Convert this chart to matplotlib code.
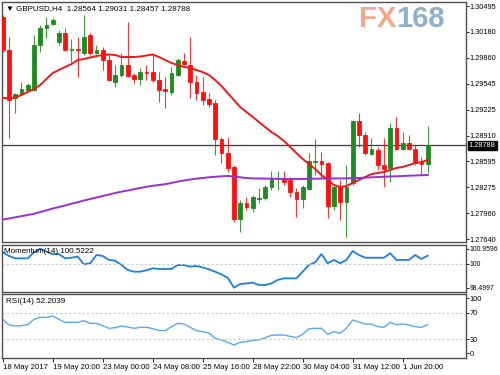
import matplotlib
matplotlib.use("Agg")
import matplotlib.pyplot as plt
import matplotlib.transforms as mtransforms
import numpy as np

plt.rcParams['font.family'] = ['Liberation Sans', 'DejaVu Sans']

# H4 candles, GBPUSD
time_labels = ["18 May 2017", "19 May 20:00", "23 May 00:00", "24 May 08:00",
               "25 May 16:00", "28 May 22:00", "30 May 04:00", "31 May 12:00",
               "1 Jun 20:00"]

opens = [1.30360, 1.29957, 1.29369, 1.29418, 1.29467, 1.29467, 1.30018, 1.30226, 1.30275, 1.30054,
         1.30165, 1.29957, 1.29969, 1.29920, 1.30140, 1.29920, 1.29957, 1.29834, 1.29565, 1.29651,
         1.29773, 1.29651, 1.29602, 1.29687, 1.29687, 1.29589, 1.29479, 1.29443, 1.29651, 1.29822,
         1.29773, 1.29565, 1.29443, 1.29357, 1.29308, 1.28867, 1.28696, 1.28525, 1.27888, 1.28084,
         1.28023, 1.28133, 1.28145, 1.28280, 1.28378, 1.28390, 1.28366, 1.28219, 1.28133, 1.28256,
         1.28586, 1.28598, 1.28574, 1.28048, 1.28280, 1.28096, 1.28329, 1.29088, 1.28916, 1.28684,
         1.28733, 1.28549, 1.28513, 1.29002, 1.28745, 1.28819, 1.28745, 1.28586, 1.28564]
highs = [1.30385, 1.30116, 1.29430, 1.29565, 1.29553, 1.30140, 1.30262, 1.30360, 1.30348, 1.30201,
         1.30226, 1.30091, 1.30116, 1.30385, 1.30165, 1.30018, 1.29993, 1.29895, 1.29773, 1.29920,
         1.30299, 1.29675, 1.29736, 1.29773, 1.29895, 1.29687, 1.29626, 1.29749, 1.29859, 1.29920,
         1.30116, 1.29651, 1.29626, 1.29430, 1.29345, 1.28892, 1.28892, 1.28549, 1.28121, 1.28158,
         1.28182, 1.28268, 1.28305, 1.28476, 1.28476, 1.28476, 1.28402, 1.28268, 1.28305, 1.28696,
         1.28867, 1.28708, 1.28586, 1.28305, 1.28366, 1.28549, 1.29100, 1.29186, 1.28953, 1.28880,
         1.28770, 1.28880, 1.29063, 1.29137, 1.28953, 1.28916, 1.28794, 1.28647, 1.29031]
lows = [1.29932, 1.28880, 1.29186, 1.29406, 1.29455, 1.29455, 1.29932, 1.30103, 1.30262, 1.30018,
        1.29945, 1.29810, 1.29626, 1.29895, 1.29895, 1.29907, 1.29712, 1.29577, 1.29504, 1.29626,
        1.29626, 1.29553, 1.29528, 1.29589, 1.29565, 1.29320, 1.29247, 1.29406, 1.29638, 1.29773,
        1.29369, 1.29345, 1.29284, 1.29259, 1.28672, 1.28574, 1.28464, 1.27852, 1.27729, 1.27999,
        1.27974, 1.28084, 1.28121, 1.28243, 1.28243, 1.28305, 1.28158, 1.27913, 1.28023, 1.28243,
        1.28427, 1.28390, 1.27901, 1.27999, 1.27876, 1.27668, 1.28305, 1.28770, 1.28672, 1.28672,
        1.28488, 1.28280, 1.28341, 1.28733, 1.28733, 1.28733, 1.28549, 1.28427, 1.28457]
closes = [1.29957, 1.29345, 1.29418, 1.29479, 1.29528, 1.30018, 1.30226, 1.30262, 1.30324, 1.30165,
          1.29957, 1.29969, 1.29957, 1.30116, 1.29920, 1.29957, 1.29834, 1.29589, 1.29651, 1.29773,
          1.29638, 1.29602, 1.29687, 1.29675, 1.29589, 1.29467, 1.29455, 1.29675, 1.29834, 1.29785,
          1.29565, 1.29430, 1.29345, 1.29296, 1.28867, 1.28696, 1.28513, 1.27888, 1.28084, 1.28035,
          1.28158, 1.28145, 1.28280, 1.28390, 1.28390, 1.28341, 1.28219, 1.28133, 1.28280, 1.28598,
          1.28598, 1.28562, 1.28048, 1.28280, 1.28096, 1.28280, 1.29088, 1.28916, 1.28696, 1.28745,
          1.28549, 1.28500, 1.29002, 1.28745, 1.28819, 1.28745, 1.28574, 1.28562, 1.28788]

ma_fast = [1.29369, 1.29369, 1.29375, 1.29406, 1.29443, 1.29479, 1.29528, 1.29602, 1.29675, 1.29712,
           1.29749, 1.29785, 1.29834, 1.29846, 1.29865, 1.29883, 1.29895, 1.29902, 1.29895, 1.29871,
           1.29871, 1.29871, 1.29877, 1.29889, 1.29902, 1.29871, 1.29834, 1.29798, 1.29773, 1.29749,
           1.29736, 1.29712, 1.29687, 1.29651, 1.29589, 1.29516, 1.29430, 1.29345, 1.29259, 1.29198,
           1.29137, 1.29076, 1.29014, 1.28953, 1.28904, 1.28843, 1.28770, 1.28696, 1.28623, 1.28562,
           1.28500, 1.28427, 1.28366, 1.28305, 1.28280, 1.28292, 1.28329, 1.28366, 1.28402, 1.28439,
           1.28451, 1.28464, 1.28488, 1.28513, 1.28525, 1.28549, 1.28574, 1.28586, 1.28611]
ma_slow = [1.27882, 1.27895, 1.27909, 1.27923, 1.27937, 1.27952, 1.27974, 1.27995, 1.28017, 1.28035,
           1.28054, 1.28075, 1.28094, 1.28115, 1.28133, 1.28152, 1.28170, 1.28188, 1.28207, 1.28223,
           1.28237, 1.28253, 1.28268, 1.28283, 1.28295, 1.28305, 1.28314, 1.28329, 1.28345, 1.28360,
           1.28372, 1.28382, 1.28390, 1.28399, 1.28405, 1.28411, 1.28415, 1.28409, 1.28399, 1.28390,
           1.28386, 1.28384, 1.28383, 1.28382, 1.28380, 1.28379, 1.28378, 1.28378, 1.28379, 1.28380,
           1.28382, 1.28383, 1.28384, 1.28385, 1.28385, 1.28386, 1.28388, 1.28391, 1.28395, 1.28399,
           1.28402, 1.28406, 1.28409, 1.28411, 1.28415, 1.28418, 1.28421, 1.28424, 1.28427]

momentum = [100.73, 100.50, 100.35, 100.35, 100.35, 100.73, 100.96, 100.77, 100.62, 100.62,
            100.35, 100.39, 100.46, 99.97, 100.04, 100.56, 100.50, 100.25, 100.20, 99.93,
            99.62, 99.51, 99.51, 99.60, 99.72, 99.68, 99.68, 99.68, 99.93, 99.93,
            99.83, 99.87, 99.78, 99.66, 99.51, 99.34, 99.13, 98.50, 98.73, 98.77,
            98.82, 98.67, 98.67, 98.77, 98.99, 99.09, 99.09, 99.09, 99.51, 99.93,
            100.10, 100.62, 100.04, 100.25, 100.04, 100.25, 100.81, 100.56, 100.39, 100.39,
            100.39, 100.39, 100.67, 100.25, 100.25, 100.25, 100.56, 100.31, 100.5222]
rsi = [60, 51.5, 50, 50.5, 52, 60, 63, 63, 65, 60,
       55.5, 55.5, 55.5, 58, 54, 54, 50.5, 46.5, 47.5, 50,
       48.5, 46.5, 48, 48, 46, 43.5, 43, 49, 54, 53,
       48, 43, 41.5, 39.5, 31.5, 29, 25.5, 21.5, 25.5, 26.5,
       28.5, 29, 32.5, 36, 36.5, 36.5, 34.5, 32.5, 37.5, 46,
       46.5, 46.5, 37.5, 41.5, 39, 46.5, 59, 56, 53, 53,
       49, 48, 55.5, 52, 53, 51.5, 49, 48, 52.2039]

price_ticks = [1.30495, 1.30180, 1.29860, 1.29545, 1.29225, 1.28910, 1.28595, 1.28275, 1.27960, 1.27640]

BULL = '#1f8a1f'
BEAR = '#ff1010'
SPINE = '#505050'
FS = 5.3

W, H = 500, 375


def box(l, t, r, b):
    return [l / W, 1 - b / H, (r - l) / W, (b - t) / H]


def style_panel(ax, size=FS):
    for s in ax.spines.values():
        s.set_color(SPINE)
        s.set_linewidth(1.0)
    ax.yaxis.tick_right()
    ax.tick_params(axis='y', length=2, pad=0.8, labelsize=size, width=0.6)
    ax.tick_params(axis='x', bottom=False, labelbottom=False)


fig = plt.figure(figsize=(5, 3.75), dpi=100)
fig.patch.set_facecolor('white')

ax_main = fig.add_axes(box(2, 2, 466, 242))
ax_mom = fig.add_axes(box(2, 245, 466, 292), sharex=ax_main)
ax_rsi = fig.add_axes(box(2, 294, 466, 358), sharex=ax_main)

x = np.arange(len(closes))
o = np.array(opens)
c = np.array(closes)
colors = np.where(c >= o, BULL, BEAR)

# candles
ax_main.vlines(x, lows, highs, colors=colors, lw=0.8, alpha=0.85, zorder=2)
ax_main.bar(x, np.abs(c - o), bottom=np.minimum(o, c), width=0.62,
            color=colors, edgecolor=colors, linewidth=0.6, zorder=3)
ax_main.plot(x, ma_fast, color='#f01818', lw=1.4, zorder=4)
ax_main.plot(x, ma_slow, color='#9b30d0', lw=1.4, zorder=4)

last = closes[-1]
ax_main.axhline(last, color='#3a3a3a', lw=0.9, zorder=1)
trans = mtransforms.blended_transform_factory(ax_main.transAxes, ax_main.transData)
ax_main.text(1.006, last, f"{last:.5f}", transform=trans, ha='left', va='center',
             color='white', fontsize=FS, clip_on=False,
             bbox=dict(facecolor='black', edgecolor='black', pad=0.9))

ax_main.set_xlim(-0.11, 74.13)
ax_main.set_ylim(1.27607, 1.30544)
ax_main.set_yticks(price_ticks)
ax_main.set_yticklabels([f"{p:.5f}" for p in price_ticks])
style_panel(ax_main)

ax_main.text(0.008, 0.988,
             f"\u25BC GBPUSD,H4  {opens[-1]:.5f} {highs[-1]:.5f} {lows[-1]:.5f} {closes[-1]:.5f}",
             transform=ax_main.transAxes, ha='left', va='top', fontsize=5.8)

# watermark
fig.text(396 / W, 1 - 19 / H, "FX", color='#f2a78c', fontsize=21, fontweight='bold',
         ha='right', va='center', zorder=0)
fig.text(396 / W, 1 - 19 / H, "168", color='#8fb0c8', fontsize=21, fontweight='bold',
         ha='left', va='center', zorder=0)

# momentum
ax_mom.plot(x, momentum, color='#1e7fe0', lw=1.3)
ax_mom.axhline(100, color='#c8c8c8', lw=0.8, ls=(0, (2, 2)))
ax_mom.set_ylim(98.23, 101.19)
ax_mom.set_yticks([100.9596, 100, 98.4997])
ax_mom.set_yticklabels(['100.9596', '100', '98.4997'])
style_panel(ax_mom, size=4.9)
ax_mom.text(0.004, 0.93, f"Momentum(14) {momentum[-1]:.4f}",
            transform=ax_mom.transAxes, ha='left', va='top', fontsize=5.8)

# rsi
ax_rsi.plot(x, rsi, color='#5aa8f0', lw=1.0)
for lvl in (70, 30):
    ax_rsi.axhline(lvl, color='#c8c8c8', lw=0.8, ls=(0, (2, 2)))
ax_rsi.set_ylim(1.9, 98.1)
ax_rsi.set_yticks([92, 70, 30, 9])
ax_rsi.set_yticklabels(['100', '70', '30', '0'])
style_panel(ax_rsi)
ax_rsi.text(0.008, 0.93, f"RSI(14) {rsi[-1]:.4f}", transform=ax_rsi.transAxes,
            ha='left', va='top', fontsize=5.8)

ax_rsi.set_xticks(np.arange(0, len(closes), 8))
ax_rsi.set_xticklabels(time_labels)
ax_rsi.tick_params(axis='x', bottom=True, labelbottom=True, length=3, width=0.6,
                   pad=1.5, labelsize=5.6)
for lbl in ax_rsi.get_xticklabels():
    lbl.set_ha('left')

fig.savefig('out.png', dpi=100)
